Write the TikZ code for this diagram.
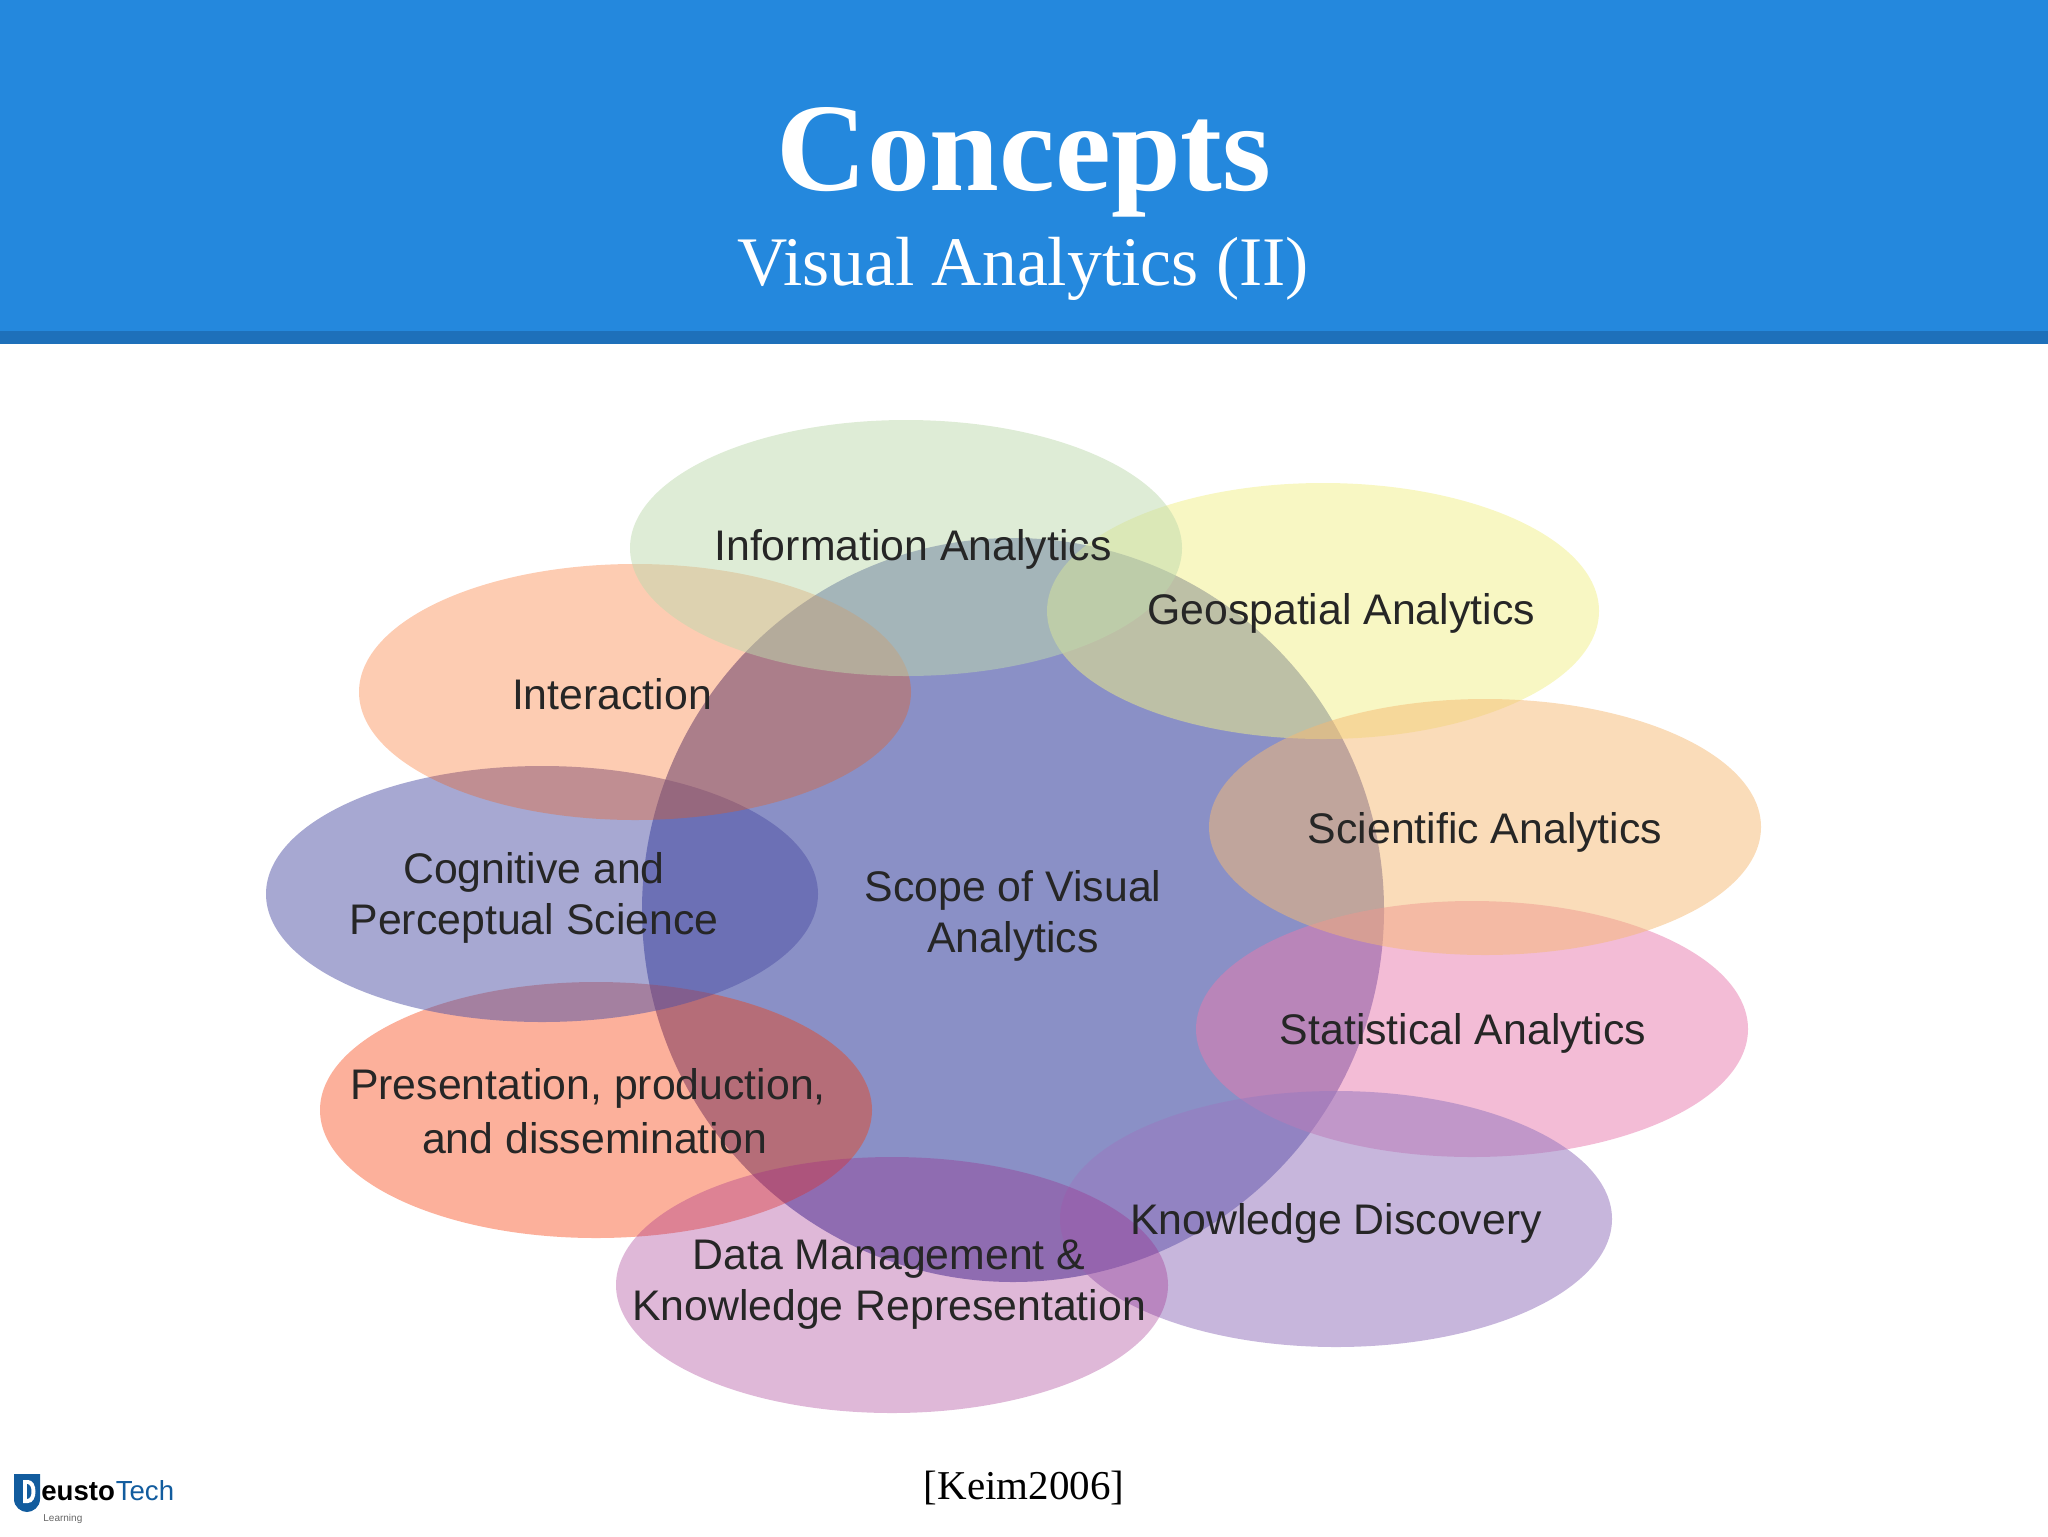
\documentclass[tikz,border=0pt]{standalone}
\usepackage{fontspec}
\setmainfont{Liberation Serif}
\setsansfont{Liberation Sans}
\usetikzlibrary{positioning,shapes.geometric}

\definecolor{headblue}{RGB}{36,136,221}
\definecolor{headdark}{RGB}{30,112,186}
\definecolor{logoblue}{RGB}{18,92,158}
\definecolor{infogreen}{RGB}{190,217,173}
\definecolor{geoyellow}{RGB}{241,239,135}
\definecolor{interorange}{RGB}{250,85,0}
\definecolor{cogblue}{RGB}{79,81,165}
\definecolor{sciorange}{RGB}{245,185,115}
\definecolor{statpink}{RGB}{231,121,173}
\definecolor{presred}{RGB}{247,58,5}
\definecolor{knowpurple}{RGB}{153,122,191}
\definecolor{datapurple}{RGB}{156,34,134}
\definecolor{scopeblue}{RGB}{60,70,160}

\begin{document}
\begin{tikzpicture}
    [x=0.5pt,y=-0.5pt,
     petal/.style={ellipse,inner sep=0pt,minimum width=276pt,minimum height=128pt,fill opacity=0.5},
     lbl/.style={font=\sffamily\fontsize{21.4}{25.5}\selectfont,text=black!85,align=center,inner sep=0pt}]

    \useasboundingbox (0,0) rectangle (2048,1536);

    % header
    \fill[headblue] (0,0) rectangle (2048,331);
    \fill[headdark] (0,331) rectangle (2048,344);
    \node[anchor=base,text=white,font=\bfseries\fontsize{62.7}{64}\selectfont] (title) at (1024,190) {Concepts};
    \node[anchor=base,text=white,font=\fontsize{34.8}{36}\selectfont] (subtitle) at (1023,285) {Visual Analytics (II)};

    % big circle first, then the petals from the bottom layer up
    \node[ellipse,inner sep=0pt,minimum width=371pt,minimum height=372pt,fill=scopeblue,fill opacity=0.6] (scope) at (1013,910) {};

    \node[petal,fill=presred,fill opacity=0.4] (presentation) at (596,1110) {};
    \node[petal,fill=cogblue] (cognitive) at (542,894) {};
    \node[petal,fill=geoyellow] (geospatial) at (1323,611) {};
    \node[petal,fill=interorange,fill opacity=0.3] (interaction) at (635,692) {};
    \node[petal,fill=infogreen] (information) at (906,548) {};
    \node[petal,fill=statpink] (statistical) at (1472,1029) {};
    \node[petal,fill=sciorange] (scientific) at (1485,827) {};
    \node[petal,fill=knowpurple,fill opacity=0.55] (knowledge) at (1336,1219) {};
    \node[petal,fill=datapurple,fill opacity=0.32] (datamgmt) at (892,1285) {};

    % labels
    \node[lbl] (informationlbl) at (913,549) {Information Analytics};
    \node[lbl] (geospatiallbl) at (1341,613) {Geospatial Analytics};
    \node[lbl] (interactionlbl) at (612,694) {Interaction};
    \node[lbl] (cognitivelbl) at (534,898) {Cognitive and\\Perceptual Science};
    \node[lbl] (scientificlbl) at (1485,832) {Scientific Analytics};
    \node[lbl] (statisticallbl) at (1463,1033) {Statistical Analytics};
    \node[lbl] (presentationlbl) at (588,1111) {Presentation, production,\\[1.3pt]\hspace*{6.5pt}and dissemination};
    \node[lbl] (knowledgelbl) at (1336,1223) {Knowledge Discovery};
    \node[lbl] (datamgmtlbl) at (889,1285) {Data Management \&\\Knowledge Representation};
    \node[lbl] (scopelbl) at (1013,916) {Scope of Visual\\Analytics};

    \node[anchor=base,font=\fontsize{20.5}{24}\selectfont,text=black] (citation) at (1024,1499) {[Keim2006]};

    % logo
    \fill[logoblue] (14,1474) -- (40,1474) -- (40,1499) .. controls (40,1507) and (33,1512) .. (27,1512) .. controls (21,1512) and (14,1507) .. (14,1499) -- cycle;
    \fill[white] (23,1480) -- (28,1480) .. controls (38,1480) and (38,1503) .. (28,1503) -- (23,1503) -- cycle;
    \fill[logoblue] (27,1484) .. controls (33,1484) and (33,1499) .. (27,1499) -- cycle;
    \node[anchor=base west,inner sep=0pt,font=\sffamily\bfseries\fontsize{13.8}{16}\selectfont,text=black] (logodeusto) at (41,1500) {eusto};
    \node[anchor=base west,inner sep=0pt,font=\sffamily\fontsize{13.8}{16}\selectfont,text=logoblue] (logotech) at (logodeusto.base east) {Tech};
    \node[anchor=base west,inner sep=0pt,font=\sffamily\fontsize{5}{6}\selectfont,text=black!60] (logolearning) at (43,1521) {Learning};
\end{tikzpicture}
\end{document}
